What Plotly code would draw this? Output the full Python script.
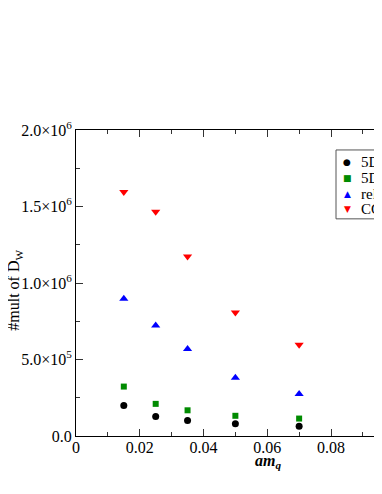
import plotly.graph_objects as go

am_q = [0.015, 0.025, 0.035, 0.05, 0.07]
names = ["5D HMC", "5D RHMC", "relative", "CG"]
mult_5d_a = [2.0e5, 1.27e5, 1.01e5, 0.80e5, 0.64e5]
mult_5d_b = [3.23e5, 2.10e5, 1.68e5, 1.32e5, 1.14e5]
mult_rel = [0.897e6, 0.723e6, 0.569e6, 0.380e6, 0.275e6]
mult_cg = [1.595e6, 1.466e6, 1.173e6, 0.808e6, 0.597e6]

y_ticks = [0, 5e5, 1e6, 1.5e6, 2e6]
y_ticktext = ["0.0", "5.0×10<sup>5</sup>", "1.0×10<sup>6</sup>",
              "1.5×10<sup>6</sup>", "2.0×10<sup>6</sup>"]
x_ticks = [0, 0.02, 0.04, 0.06, 0.08]
x_ticktext = ["0", "0.02", "0.04", "0.06", "0.08"]

series = [mult_5d_a, mult_5d_b, mult_rel, mult_cg]
colors = ["#000000", "#008B00", "#0000FF", "#FF0000"]
symbols = ["circle", "square", "triangle-up", "triangle-down"]
sizes = [7, 6, 8, 8]
glyphs = ["●", "■", "▲", "▼"]

# the page body has an 8px margin, so the figure is a bit smaller than the window
OFF = 8
W, H = 382 - OFF, 494 - OFF
L, T, B = 76 - OFF, 130 - OFF, 57.5
serif = "Liberation Serif, Times New Roman, DejaVu Serif, serif"

fig = go.Figure()
for ys, name, c, s, sz in zip(series, names, colors, symbols, sizes):
    fig.add_trace(go.Scatter(x=am_q, y=ys, mode="markers", name=name,
                             marker=dict(color=c, symbol=s, size=sz, line=dict(width=0)),
                             showlegend=False))

# window pixel -> paper helpers
pw = W - L
ph = H - T - B
def px(x):
    return (x - OFF - L) / pw
def py(y):
    return (H - B - (y - OFF)) / ph

# hand-drawn legend box (cut off at the right edge like the original)
fig.add_shape(type="rect", xref="paper", yref="paper",
              x0=px(336), x1=px(420), y0=py(219), y1=py(150),
              line=dict(color="#555555", width=1), fillcolor="white", layer="above")
row_y = [162, 178, 194, 209.5]
for g, name, c, ry in zip(glyphs, names, colors, row_y):
    fig.add_annotation(xref="paper", yref="paper", x=px(347), y=py(ry),
                       text=g, showarrow=False, xanchor="center", yanchor="middle",
                       font=dict(family="DejaVu Sans", size=9, color=c))
    fig.add_annotation(xref="paper", yref="paper", x=px(359), y=py(ry),
                       text=name, showarrow=False, xanchor="left", yanchor="middle",
                       font=dict(family=serif, size=15, color="black"))

fig.add_annotation(xref="paper", yref="paper", x=px(268), y=py(462),
                   text="<b><i>am</i></b><sub><b><i>q</i></b></sub>", showarrow=False,
                   xanchor="center", yanchor="middle",
                   font=dict(family=serif, size=16, color="black"))
fig.add_annotation(xref="paper", yref="paper", x=px(15), y=py(290),
                   text="#mult of D<sub>W</sub>", showarrow=False, textangle=-90,
                   xanchor="center", yanchor="middle",
                   font=dict(family=serif, size=16, color="black"))

fig.update_xaxes(range=[0, 0.02 * pw / 63.75], tickvals=x_ticks, ticktext=x_ticktext,
                 ticks="inside", ticklen=7, tickwidth=1, tickcolor="#333333",
                 minor=dict(dtick=0.01, ticks="inside", ticklen=4, tickwidth=1, tickcolor="#333333"),
                 showline=True, linecolor="black", linewidth=1, mirror="ticks",
                 showgrid=False, zeroline=False, automargin=False, ticklabelstandoff=-3,
                 tickfont=dict(family=serif, size=16, color="black"))
fig.update_yaxes(range=[0, 2e6], tickvals=y_ticks, ticktext=y_ticktext,
                 ticks="inside", ticklen=7, tickwidth=1, tickcolor="#333333",
                 minor=dict(dtick=2.5e5, ticks="inside", ticklen=4, tickwidth=1, tickcolor="#333333"),
                 showline=True, linecolor="black", linewidth=1, mirror=False,
                 showgrid=False, zeroline=False, automargin=False,
                 tickfont=dict(family=serif, size=16, color="black"))

fig.update_layout(width=W, height=H, margin=dict(l=L, r=0, t=T, b=B),
                  plot_bgcolor="white", paper_bgcolor="white",
                  font=dict(family=serif, color="black"))

fig.write_html("out.html")
